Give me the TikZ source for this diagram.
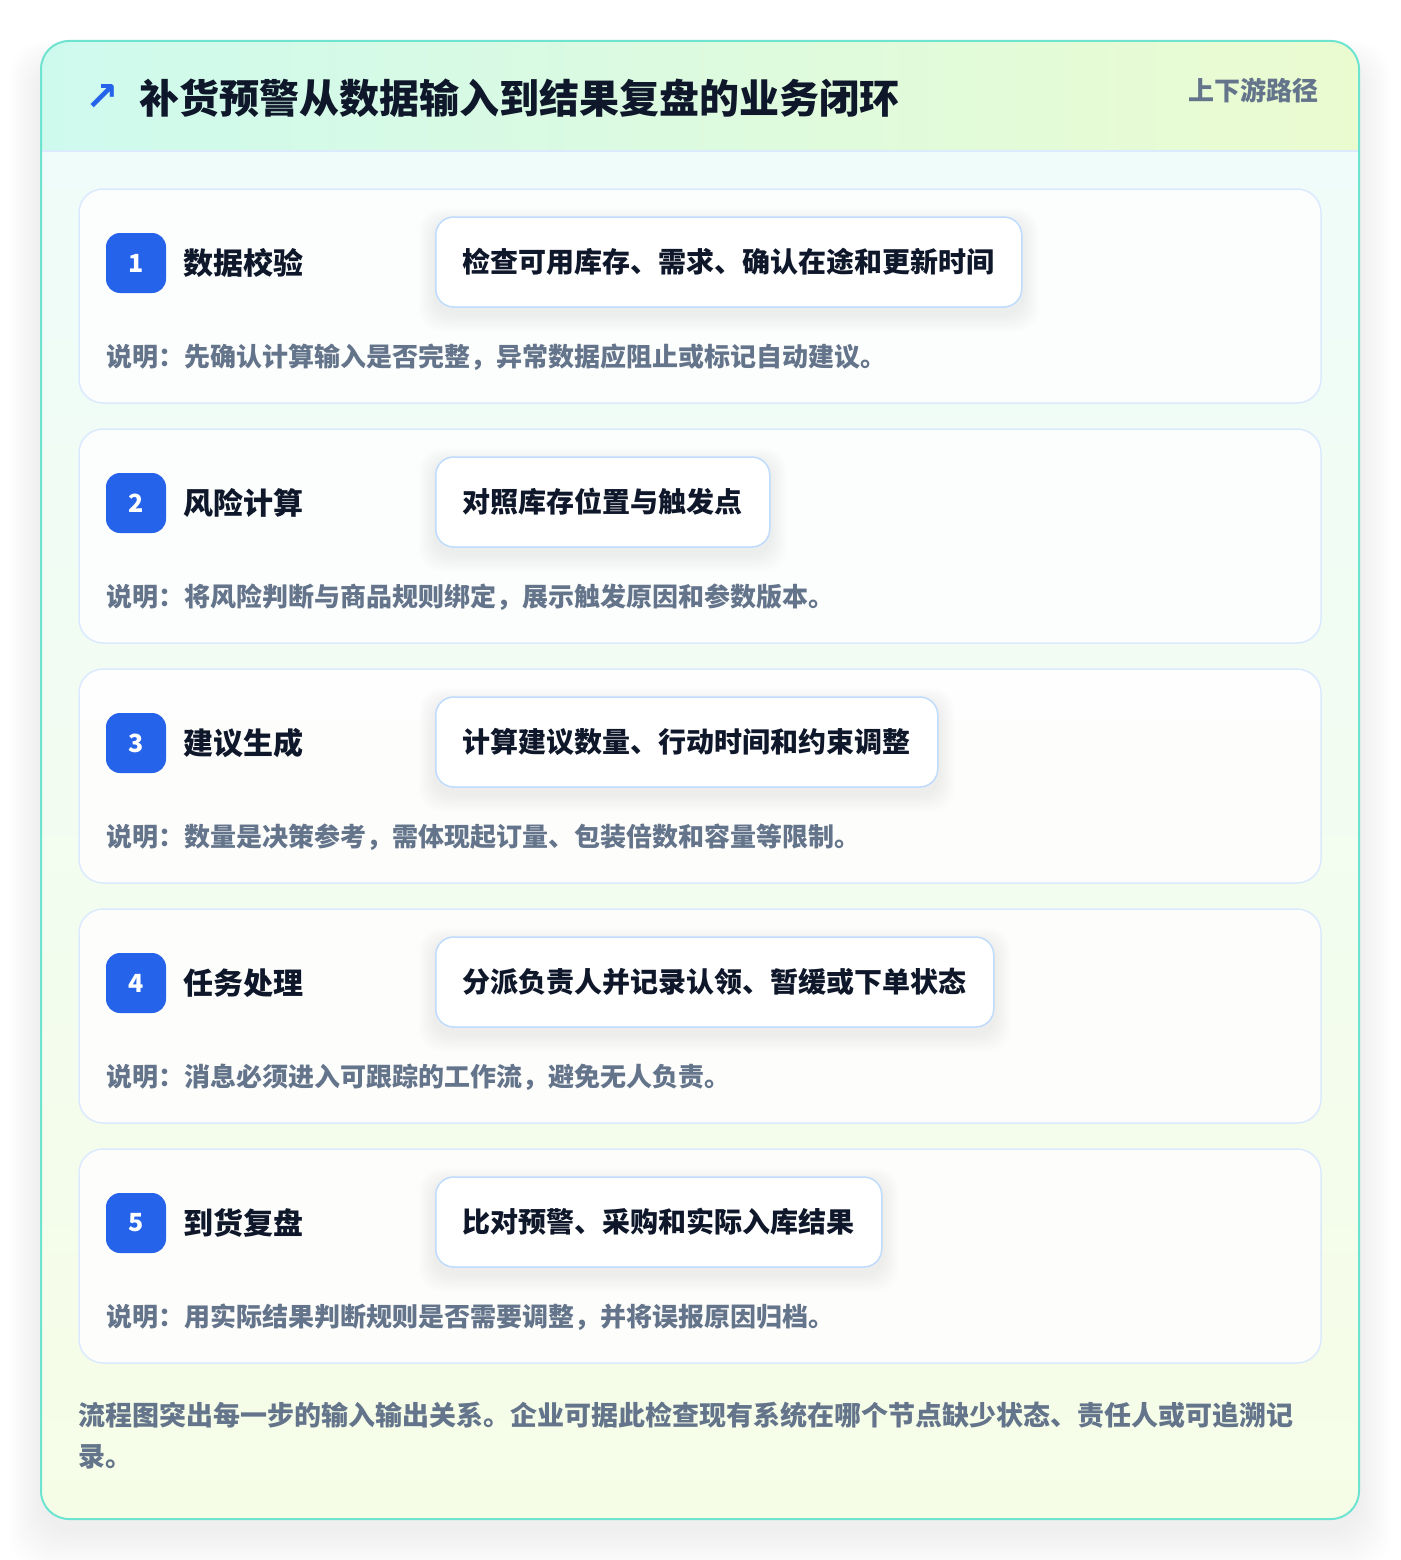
\documentclass[tikz,border=0pt]{standalone}
\usepackage{fontspec}
\setmainfont{Noto Sans CJK SC}[BoldFont={Noto Sans CJK SC Black}]
\newfontfamily\symfont{DejaVu Sans}
\usetikzlibrary{backgrounds}
\definecolor{ink}{HTML}{0F172A}
\definecolor{muted}{HTML}{64748B}
\definecolor{brand}{HTML}{2563EB}
\definecolor{cardline}{HTML}{DBEAFE}
\definecolor{boxline}{HTML}{BFDBFE}
\definecolor{rimline}{HTML}{6EE4D0}
\definecolor{headL}{HTML}{CEFAEE}
\definecolor{headR}{HTML}{EBFBD0}
\definecolor{bodyT}{HTML}{EFFCF9}
\definecolor{bodyB}{HTML}{F6FDE7}
\tikzset{
  card/.style={draw=cardline, line width=1.5pt, rounded corners=24pt, fill=white, fill opacity=0.85, draw opacity=1,
    minimum width=1242pt, minimum height=214pt, anchor=north west, inner sep=0pt, outer sep=0pt},
  badge/.style={fill=brand, rounded corners=14pt, minimum size=60pt, inner sep=0pt, text=white,
    font=\fontsize{25}{28}\selectfont\bfseries},
  steptitle/.style={anchor=west, inner sep=0pt, text=ink, font=\fontsize{30}{36}\selectfont\bfseries},
  inbox/.style={draw=boxline, line width=1.5pt, rounded corners=18pt, fill=white, anchor=west,
    inner xsep=27pt, inner ysep=0pt, minimum height=90pt, text=ink, font=\fontsize{28}{34}\selectfont\bfseries},
  desc/.style={anchor=west, inner sep=0pt, text=muted, font=\fontsize{26}{32}\selectfont\bfseries},
  foot/.style={anchor=west, inner sep=0pt, text=muted, font=\fontsize{27}{33}\selectfont\bfseries},
}
\newcommand\stepcard[5]{%
  \node[card] (card#1) at (79,#2) {};
  \node[badge] (badge#1) at (136,#2+74) {#1};
  \node[steptitle] (title#1) at (183,#2+74) {#3};
  \path (435,#2+73) node[inbox, draw=none, fill=none, text opacity=0] (ghost#1) {#4};
  \foreach \k in {1,...,8}{
    \fill[black, opacity=0.007, rounded corners=22pt]
      ([xshift=-\k*2pt, yshift=\k*1.6pt-5pt]ghost#1.north west) rectangle ([xshift=\k*2pt, yshift=-\k*2.2pt-6pt]ghost#1.south east);
  }
  \node[inbox] (input#1) at (435,#2+73) {#4};
  \node[desc] (desc#1) at (106,#2+168) {#5};
}
\begin{document}
\begin{tikzpicture}[x=1pt,y=-1pt]
\useasboundingbox (0,0) rectangle (1400,1560);
\fill[white] (0,0) rectangle (1400,1560);
% outer shadow
\foreach \k in {1,...,16}{
  \fill[black, opacity=0.0045, rounded corners=36pt] (41-\k*2, 62-\k*1.3) rectangle (1359+\k*2, 1530+\k*2.6);
}
% panel background
\begin{scope}
  \clip[rounded corners=28pt] (41,41) rectangle (1359,1519);
  \shade[top color=bodyT, bottom color=bodyB] (41,150) rectangle (1359,1519);
  \shade[left color=headL, right color=headR] (41,41) rectangle (1359,151);
\end{scope}
\draw[cardline, line width=1.5pt] (42,151) -- (1358,151);
\node[draw=rimline, line width=2pt, rounded corners=28pt, minimum width=1318pt, minimum height=1478pt,
  anchor=north west, inner sep=0pt, outer sep=0pt] (panel) at (41,41) {};
% header
\node[text=brand, inner sep=0pt, font=\symfont\fontsize{40}{44}\selectfont\bfseries] (icon) at (102,98) {↗};
\node[anchor=west, inner sep=0pt, text=ink, font=\fontsize{40}{48}\selectfont\bfseries] (heading) at (139,98)
  {补货预警从数据输入到结果复盘的业务闭环};
\node[anchor=east, inner sep=0pt, text=muted, font=\fontsize{26}{32}\selectfont\bfseries] (tag) at (1319,90)
  {上下游路径};
% steps
\stepcard{1}{189}{数据校验}{检查可用库存、需求、确认在途和更新时间}{说明：先确认计算输入是否完整，异常数据应阻止或标记自动建议。}
\stepcard{2}{429}{风险计算}{对照库存位置与触发点}{说明：将风险判断与商品规则绑定，展示触发原因和参数版本。}
\stepcard{3}{669}{建议生成}{计算建议数量、行动时间和约束调整}{说明：数量是决策参考，需体现起订量、包装倍数和容量等限制。}
\stepcard{4}{909}{任务处理}{分派负责人并记录认领、暂缓或下单状态}{说明：消息必须进入可跟踪的工作流，避免无人负责。}
\stepcard{5}{1149}{到货复盘}{比对预警、采购和实际入库结果}{说明：用实际结果判断规则是否需要调整，并将误报原因归档。}
% footer
\node[foot] (foot1) at (78,1415) {流程图突出每一步的输入输出关系。企业可据此检查现有系统在哪个节点缺少状态、责任人或可追溯记};
\node[foot] (foot2) at (78,1457) {录。};
\end{tikzpicture}
\end{document}
